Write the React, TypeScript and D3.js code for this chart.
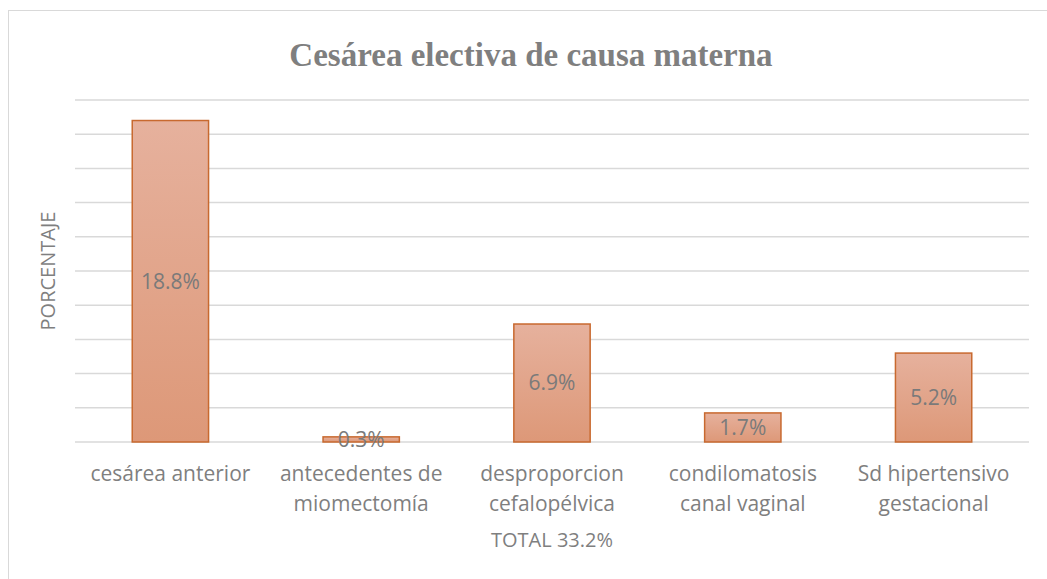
import * as d3 from "d3";

const categories = [
  ["cesárea anterior"],
  ["antecedentes de", "miomectomía"],
  ["desproporcion", "cefalopélvica"],
  ["condilomatosis", "canal vaginal"],
  ["Sd hipertensivo", "gestacional"],
];
const values = [18.8, 0.3, 6.9, 1.7, 5.2];
const valueLabels = ["18.8%", "0.3%", "6.9%", "1.7%", "5.2%"];
const gridTicks = [0, 2, 4, 6, 8, 10, 12, 14, 16, 18, 20];
const title = "Cesárea electiva de causa materna";
const yTitle = "PORCENTAJE";
const xTitle = "TOTAL 33.2%";

const width = 1047;
const height = 579;
const plotLeft = 75;
const plotRight = 1029;
const plotTop = 100;
const plotBottom = 442;

const labelFont = "'Open Sans', sans-serif";

export default function App() {
  const x = d3
    .scaleBand<number>()
    .domain(d3.range(values.length))
    .range([plotLeft, plotRight])
    .paddingInner(0.6)
    .paddingOuter(0.3);
  const y = d3.scaleLinear().domain([0, 20]).range([plotBottom, plotTop]);

  return (
    <svg
      width={width}
      height={height}
      style={{ position: "absolute", left: 0, top: 0 }}
    >
      <defs>
        <linearGradient id="barFill" x1="0" y1="0" x2="0" y2="1">
          <stop offset="0" stopColor="#e6b19d" />
          <stop offset="1" stopColor="#dd9878" />
        </linearGradient>
      </defs>
      <rect x={0} y={0} width={width} height={height} fill="#fff" />
      <rect
        x={8.5}
        y={10.5}
        width={width + 10}
        height={height + 10}
        fill="none"
        stroke="#d9d9d9"
      />
      <text
        x={531}
        y={66}
        textAnchor="middle"
        fontFamily="'Liberation Serif', 'Times New Roman', serif"
        fontWeight="bold"
        fontSize={33}
        fill="#7f7f7f"
      >
        {title}
      </text>
      {gridTicks.map((t) => (
        <line
          key={t}
          x1={plotLeft}
          x2={plotRight}
          y1={y(t)}
          y2={y(t)}
          stroke="#d9d9d9"
          strokeWidth={1.5}
        />
      ))}
      {values.map((v, i) => (
        <rect
          key={i}
          x={x(i)}
          y={y(v)}
          width={x.bandwidth()}
          height={y(0) - y(v)}
          fill="url(#barFill)"
          stroke="#c8692f"
          strokeWidth={1.5}
        />
      ))}
      {values.map((v, i) => (
        <text
          key={i}
          x={(x(i) ?? 0) + x.bandwidth() / 2}
          y={(y(v) + y(0)) / 2}
          dy="0.35em"
          textAnchor="middle"
          fontFamily={labelFont}
          fontSize={21}
          fill="#7a7a7a"
        >
          {valueLabels[i]}
        </text>
      ))}
      {categories.map((lines, i) => (
        <text
          key={i}
          textAnchor="middle"
          fontFamily={labelFont}
          fontSize={21}
          fill="#7f7f7f"
        >
          {lines.map((l, j) => (
            <tspan
              key={j}
              x={(x(i) ?? 0) + x.bandwidth() / 2}
              y={481 + j * 30}
            >
              {l}
            </tspan>
          ))}
        </text>
      ))}
      <text
        x={(plotLeft + plotRight) / 2}
        y={547}
        textAnchor="middle"
        fontFamily={labelFont}
        fontSize={20}
        fill="#7f7f7f"
      >
        {xTitle}
      </text>
      <text
        transform={`translate(48,271) rotate(-90)`}
        textAnchor="middle"
        dy="0.35em"
        fontFamily={labelFont}
        fontSize={20}
        fill="#7f7f7f"
      >
        {yTitle}
      </text>
    </svg>
  );
}
